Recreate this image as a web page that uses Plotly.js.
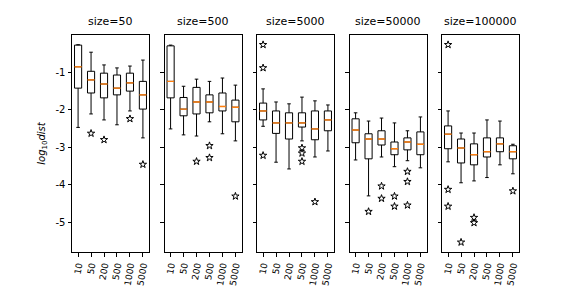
<!DOCTYPE html>
<html>
<head>
<meta charset="utf-8">
<script src="https://cdn.plot.ly/plotly-3.0.1.min.js"></script>
<style>html,body{margin:0;padding:0;background:#fff;}#chart{width:576px;height:288px;}</style>
</head>
<body>
<div id="chart"></div>
<script>
// Panel titles and category tick labels
const panelTitles = ["size=50", "size=500", "size=5000", "size=50000", "size=100000"];
const sampleLabels = ["10", "50", "200", "500", "1000", "5000"];
const yTickVals = [-1, -2, -3, -4, -5];
const yTickText = ["-1", "-2", "-3", "-4", "-5"];

// Box statistics (log10 dist), one inner array per panel, one value per sample label
const whiskerHigh = [
  [-0.26, -0.46, -0.80, -0.88, -0.83, -0.67],
  [-0.27, -1.37, -1.18, -1.24, -1.15, -1.34],
  [-1.44, -1.79, -1.84, -1.66, -1.76, -1.87],
  [-2.08, -2.30, -2.22, -2.35, -2.56, -2.19],
  [-2.03, -2.62, -2.62, -2.27, -2.30, -2.92]
];
const q3 = [
  [-0.27, -0.97, -1.02, -1.07, -1.02, -1.24],
  [-0.29, -1.67, -1.40, -1.60, -1.55, -1.74],
  [-1.82, -2.03, -2.08, -2.08, -2.03, -2.03],
  [-2.24, -2.64, -2.56, -2.86, -2.75, -2.59],
  [-2.43, -2.78, -2.91, -2.75, -2.75, -2.96]
];
const median = [
  [-0.85, -1.20, -1.31, -1.42, -1.28, -1.60],
  [-1.24, -1.98, -1.79, -1.79, -1.91, -1.93],
  [-2.03, -2.35, -2.35, -2.35, -2.51, -2.27],
  [-2.54, -2.78, -2.78, -3.04, -2.86, -2.92],
  [-2.65, -3.02, -3.20, -3.12, -2.91, -3.12]
];
const q1 = [
  [-1.42, -1.55, -1.68, -1.60, -1.50, -1.98],
  [-1.68, -2.16, -2.11, -2.08, -2.03, -2.32],
  [-2.27, -2.63, -2.78, -2.46, -2.80, -2.56],
  [-2.88, -3.31, -2.94, -3.20, -3.07, -3.20],
  [-3.04, -3.42, -3.47, -3.26, -3.12, -3.31]
];
const whiskerLow = [
  [-2.47, -2.11, -2.27, -2.40, -2.03, -2.75],
  [-2.51, -2.67, -2.70, -2.32, -2.64, -2.83],
  [-2.44, -3.40, -3.58, -2.83, -3.26, -3.10],
  [-3.34, -4.30, -3.26, -3.52, -3.36, -3.55],
  [-3.39, -3.95, -3.90, -3.81, -3.47, -3.71]
];
// Outliers: [sample index, value] per panel
const outlierIdx = [
  [1, 2, 4, 5],
  [2, 3, 3, 5],
  [0, 0, 0, 3, 3, 3, 4],
  [1, 2, 2, 3, 3, 4, 4, 4],
  [0, 0, 0, 1, 2, 2, 5]
];
const outlierVal = [
  [-2.63, -2.80, -2.24, -3.46],
  [-3.38, -2.96, -3.28, -4.31],
  [-0.26, -0.88, -3.22, -3.02, -3.16, -3.38, -4.46],
  [-4.72, -4.04, -4.37, -4.31, -4.58, -3.65, -3.92, -4.55],
  [-0.26, -4.13, -4.58, -5.54, -4.88, -5.02, -4.17]
];

const BOXW = 0.55;
const FONT = "DejaVu Sans, sans-serif";
const panelLeft = [72, 164.5, 257, 349.5, 442];
const panelW = 77;
const W = 576, H = 288;
const yTop = 35, yBot = 252;

const traces = [];
const layout = {
  width: W, height: H,
  margin: {l: 0, r: 0, t: 0, b: 0},
  paper_bgcolor: "#fff", plot_bgcolor: "#fff",
  showlegend: false,
  font: {family: FONT, color: "#000", size: 10},
  annotations: []
};

for (let p = 0; p < 5; p++) {
  const ax = p === 0 ? "" : String(p + 1);
  const xa = "x" + ax, ya = "y" + ax;
  const pos = sampleLabels.map((_, i) => i);
  traces.push({
    type: "box", xaxis: xa, yaxis: ya,
    x: pos,
    q1: q1[p], median: median[p], q3: q3[p],
    lowerfence: whiskerLow[p], upperfence: whiskerHigh[p],
    width: BOXW, whiskerwidth: 0.5,
    line: {color: "#000", width: 1},
    fillcolor: "rgba(255,255,255,0)",
    boxpoints: false, hoverinfo: "skip"
  });
  const mx = [], my = [];
  pos.forEach((xi, i) => {
    mx.push(xi - BOXW / 2, xi + BOXW / 2, null);
    my.push(median[p][i], median[p][i], null);
  });
  traces.push({
    type: "scatter", mode: "lines", xaxis: xa, yaxis: ya,
    x: mx, y: my, line: {color: "#ff7f0e", width: 1.4}, hoverinfo: "skip"
  });
  traces.push({
    type: "scatter", mode: "markers", xaxis: xa, yaxis: ya,
    x: outlierIdx[p], y: outlierVal[p],
    marker: {symbol: "star", size: 5.5, color: "#fff", line: {color: "#000", width: 1}},
    hoverinfo: "skip", cliponaxis: false
  });

  const dom = [panelLeft[p] / W, (panelLeft[p] + panelW) / W];
  layout["xaxis" + ax] = {
    domain: dom, anchor: ya,
    range: [-0.47, 5.47],
    tickmode: "array", tickvals: pos, ticktext: sampleLabels,
    tickangle: -80, ticks: "outside", ticklen: 3.5, tickwidth: 1, tickcolor: "#000",
    tickfont: {family: FONT, size: 9, color: "#000"},
    showline: true, mirror: true, linecolor: "#000", linewidth: 1,
    showgrid: false, zeroline: false, fixedrange: true
  };
  layout["yaxis" + ax] = {
    domain: [1 - yBot / H, 1 - yTop / H], anchor: xa,
    range: [-5.80, 0.0],
    tickmode: "array", tickvals: yTickVals, ticktext: yTickText,
    showticklabels: p === 0,
    ticks: "outside", ticklen: 3.5, tickwidth: 1, tickcolor: "#000",
    tickfont: {family: FONT, size: 10, color: "#000"},
    showline: true, mirror: true, linecolor: "#000", linewidth: 1,
    showgrid: false, zeroline: false, fixedrange: true
  };
  if (p === 0) {
    layout.yaxis.title = {text: "<i>log</i><sub>10</sub><i>dist</i>", font: {family: FONT, size: 10, color: "#000"}, standoff: 8};
  }
  layout.annotations.push({
    text: panelTitles[p], xref: "paper", yref: "paper",
    x: (panelLeft[p] + panelW / 2) / W, y: 1 - (yTop - 5) / H,
    xanchor: "center", yanchor: "bottom", showarrow: false,
    font: {family: FONT, size: 11, color: "#000"}
  });
}

Plotly.newPlot("chart", traces, layout, {staticPlot: true, displayModeBar: false});
</script>
</body>
</html>
